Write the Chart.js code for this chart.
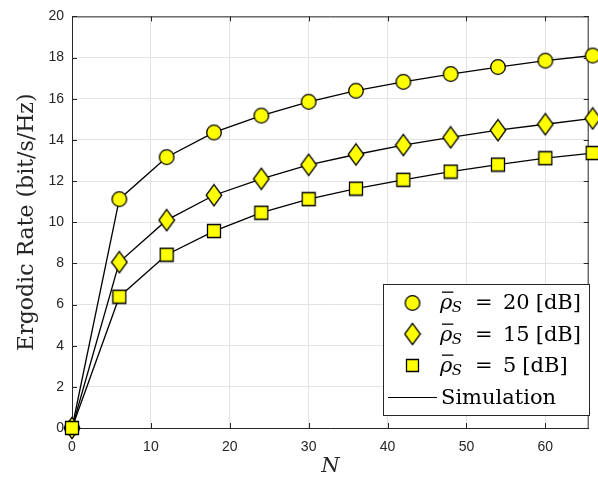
<!DOCTYPE html>
<html>
<head>
<meta charset="utf-8">
<script src="https://cdn.jsdelivr.net/npm/chart.js@4.4.1/dist/chart.umd.min.js"></script>
<style>
    html, body { margin: 0; padding: 0; background: #fff; }
</style>
</head>
<body>
<canvas id="rateChart" width="598" height="482"></canvas>
<script>
// number of elements N (x axis)
var nValues = [0, 6, 12, 18, 24, 30, 36, 42, 48, 54, 60, 66];
// ergodic rate per SNR
var rate20dB = [0, 11.12, 13.16, 14.36, 15.18, 15.85, 16.39, 16.82, 17.2, 17.54, 17.85, 18.1];
var rate15dB = [0, 8.06, 10.1, 11.31, 12.11, 12.79, 13.29, 13.75, 14.12, 14.47, 14.76, 15.04];
var rate5dB = [0, 6.38, 8.42, 9.57, 10.46, 11.12, 11.63, 12.06, 12.46, 12.8, 13.11, 13.36];
var snrLabels = ['20', '15', '5'];
var xTickValues = [0, 10, 20, 30, 40, 50, 60];
var yTickValues = [0, 2, 4, 6, 8, 10, 12, 14, 16, 18, 20];

var axisColor = '#262626';
var yellow = '#ffff00';

// marker images (matlab style)
function makeMarker(w, h, drawShape) {
    var c = document.createElement('canvas');
    c.width = w;
    c.height = h;
    var g = c.getContext('2d');
    g.fillStyle = yellow;
    g.strokeStyle = '#000';
    g.lineWidth = 1.3;
    g.beginPath();
    drawShape(g, w, h);
    g.fill();
    g.stroke();
    return c;
}
var circleMark = makeMarker(18, 18, function (g) { g.arc(9, 9, 7.3, 0, Math.PI * 2); });
var diamondMark = makeMarker(18, 24, function (g) {
    g.moveTo(9, 1.3); g.lineTo(16.8, 12); g.lineTo(9, 22.7); g.lineTo(1.2, 12); g.closePath();
});
var squareMark = makeMarker(16, 16, function (g) { g.rect(1.5, 1.5, 13, 13); });
var legendSquare = makeMarker(15, 15, function (g) { g.rect(1.5, 1.5, 12, 12); });

function toPoints(ys) {
    var pts = [];
    for (var k = 0; k < nValues.length; k++) {
        pts.push({x: nValues[k], y: ys[k]});
    }
    return pts;
}

// box, inner ticks and legend
var frameAndLegend = {
    id: 'frameAndLegend',
    beforeDatasetsDraw: function (chart) {
        var ctx = chart.ctx;
        var a = chart.chartArea;
        var xs = chart.scales.x, ys = chart.scales.y;
        ctx.save();
        ctx.strokeStyle = axisColor;
        ctx.lineWidth = 1;
        ctx.beginPath();
        ctx.moveTo(a.left, a.top + 0.5);
        ctx.lineTo(a.right, a.top + 0.5);
        ctx.moveTo(a.right - 0.5, a.top);
        ctx.lineTo(a.right - 0.5, a.bottom);
        xTickValues.forEach(function (v) {
            var px = Math.round(xs.getPixelForValue(v)) + 0.5;
            ctx.moveTo(px, a.bottom); ctx.lineTo(px, a.bottom - 5);
            ctx.moveTo(px, a.top); ctx.lineTo(px, a.top + 5);
        });
        yTickValues.forEach(function (v) {
            var py = Math.round(ys.getPixelForValue(v)) + 0.5;
            ctx.moveTo(a.left, py); ctx.lineTo(a.left + 5, py);
            ctx.moveTo(a.right, py); ctx.lineTo(a.right - 5, py);
        });
        ctx.stroke();
        ctx.restore();
    },
    afterDraw: function (chart) {
        var ctx = chart.ctx;
        ctx.save();
        // legend box
        ctx.fillStyle = '#fff';
        ctx.fillRect(383.5, 284.5, 206, 131);
        ctx.strokeStyle = axisColor;
        ctx.lineWidth = 1;
        ctx.strokeRect(383.5, 284.5, 206, 131);

        var marks = [circleMark, diamondMark, legendSquare];
        var rowY = [303, 334, 365.5];
        var baseY = [308.5, 340.5, 371.5];
        ctx.fillStyle = '#000';
        ctx.textBaseline = 'alphabetic';
        for (var r = 0; r < 3; r++) {
            var m = marks[r];
            ctx.drawImage(m, 412.5 - m.width / 2, rowY[r] - m.height / 2);
            var x = 440;
            var by = baseY[r];
            ctx.font = 'italic 21px "DejaVu Serif"';
            ctx.fillText('\u03c1', x, by);
            var rw = ctx.measureText('\u03c1').width;
            // macron over rho
            ctx.fillRect(x + 2, by - 17, rw - 1, 1.3);
            ctx.font = 'italic 15px "DejaVu Serif"';
            ctx.fillText('S', x + rw - 0.5, by + 3);
            ctx.font = '21px "DejaVu Serif"';
            ctx.fillText('=', 475, by);
            ctx.fillText(snrLabels[r], 503, by);
            var vw = ctx.measureText(snrLabels[r]).width;
            ctx.fillText('[dB]', 503 + vw + 6, by);
        }
        ctx.strokeStyle = '#000';
        ctx.lineWidth = 1.2;
        ctx.beginPath();
        ctx.moveTo(388, 397.5);
        ctx.lineTo(437, 397.5);
        ctx.stroke();
        ctx.font = '21px "DejaVu Serif"';
        ctx.fillText('Simulation', 441, 403.5);
        ctx.restore();
    }
};

var seriesData = [rate20dB, rate15dB, rate5dB];
var seriesMarks = [circleMark, diamondMark, squareMark];
var datasets = [];
for (var i = 0; i < seriesData.length; i++) {
    datasets.push({
        label: snrLabels[i] + ' dB',
        data: toPoints(seriesData[i]),
        borderColor: '#000',
        backgroundColor: yellow,
        borderWidth: 1.3,
        pointStyle: seriesMarks[i],
        pointRadius: 8,
        pointHoverRadius: 8,
        tension: 0,
        clip: false,
        order: 3 - i
    });
}

var ctx = document.getElementById('rateChart');

var rateChart = new Chart(ctx, {
    type: 'line',
    data: {datasets: datasets},
    plugins: [frameAndLegend],
    options: {
        responsive: false,
        animation: false,
        devicePixelRatio: 1,
        layout: {padding: {top: 13, right: 1, left: 0, bottom: 0}},
        plugins: {
            legend: {display: false},
            tooltip: {enabled: false}
        },
        scales: {
            x: {
                type: 'linear',
                min: 0,
                max: 65.5,
                afterBuildTicks: function (scale) {
                    scale.ticks = xTickValues.map(function (v) { return {value: v}; });
                },
                afterFit: function (scale) { scale.height = 54; },
                grid: {color: '#e3e3e3', drawTicks: false},
                border: {color: axisColor},
                ticks: {
                    color: axisColor,
                    font: {family: '"Liberation Sans", Arial, sans-serif', size: 14},
                    padding: 11,
                    maxRotation: 0,
                    autoSkip: false
                },
                title: {
                    display: true,
                    text: 'N',
                    color: axisColor,
                    font: {family: '"DejaVu Serif", serif', size: 21, style: 'italic'},
                    padding: {top: 0, bottom: 3}
                }
            },
            y: {
                min: 0,
                max: 20,
                afterBuildTicks: function (scale) {
                    scale.ticks = yTickValues.map(function (v) { return {value: v}; });
                },
                afterFit: function (scale) { scale.width = 72; },
                grid: {color: '#e3e3e3', drawTicks: false},
                border: {color: axisColor},
                ticks: {
                    color: axisColor,
                    font: {family: '"Liberation Sans", Arial, sans-serif', size: 14},
                    padding: 8
                },
                title: {
                    display: true,
                    text: 'Ergodic Rate (bit/s/Hz)',
                    color: axisColor,
                    font: {family: '"DejaVu Serif", serif', size: 22},
                    padding: {top: 14, bottom: 0}
                }
            }
        }
    }
});
</script>
</body>
</html>
